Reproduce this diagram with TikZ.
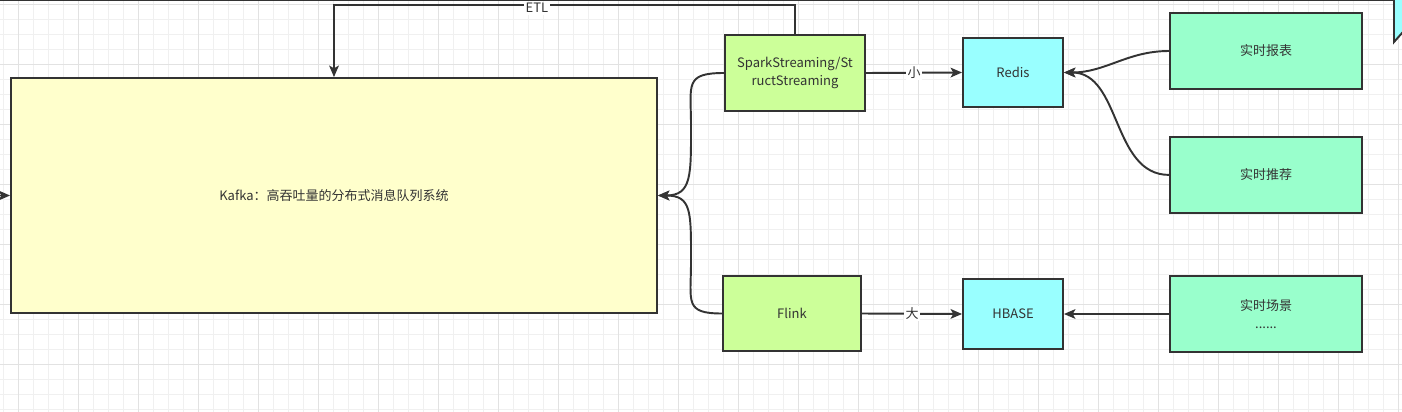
\documentclass[tikz,border=0pt]{standalone}
\usepackage{fontspec}
\setmainfont{Noto Sans CJK SC}
\usetikzlibrary{arrows.meta,positioning}
\definecolor{kafkafill}{HTML}{FFFFCC}
\definecolor{streamfill}{HTML}{CCFF99}
\definecolor{storefill}{HTML}{99FFFF}
\definecolor{appfill}{HTML}{99FFCC}
\definecolor{linegray}{HTML}{333333}
\definecolor{gridminor}{HTML}{F0F0F0}
\definecolor{gridmajor}{HTML}{E2E2E2}
\tikzset{
  box/.style={draw=linegray, line width=1.1pt, text=linegray, align=center,
    inner sep=0pt, font=\fontsize{7.4}{10}\selectfont},
  link/.style={draw=linegray, line width=1.1pt, -{Stealth[length=6.5pt,width=5.5pt,inset=1.5pt]}},
  tag/.style={fill=white, text=linegray, inner sep=1pt, font=\fontsize{7.4}{9}\selectfont},
}

\begin{document}
\begin{tikzpicture}[x=0.02cm, y=-0.02cm]
          \useasboundingbox (0,0) rectangle (1402,412);
          % grid
          \foreach \x in {3,18,...,1402} \draw[gridminor, line width=0.5pt] (\x,0) -- (\x,412);
          \foreach \y in {4,19,...,412} \draw[gridminor, line width=0.5pt] (0,\y) -- (1402,\y);
          \foreach \x in {18,78,...,1402} \draw[gridmajor, line width=0.5pt] (\x,0) -- (\x,412);
          \foreach \y in {4,64,...,412} \draw[gridmajor, line width=0.5pt] (0,\y) -- (1402,\y);

          \node [box, fill=kafkafill, minimum width=12.92cm, minimum height=4.7cm] (kafka) at (334,195.5)
                {Kafka：高吞吐量的分布式消息队列系统};
          \node [box, fill=streamfill, minimum width=2.8cm, minimum height=1.52cm] (spark) at (795,73)
                {SparkStreaming/St\\ructStreaming};
          \node [box, fill=streamfill, minimum width=2.76cm, minimum height=1.5cm] (flink) at (792,313.5) {Flink};
          \node [box, fill=storefill, minimum width=2cm, minimum height=1.38cm] (redis) at (1013,72.5) {Redis};
          \node [box, fill=storefill, minimum width=2cm, minimum height=1.4cm] (hbase) at (1013,314) {HBASE};
          \node [box, fill=appfill, minimum width=3.84cm, minimum height=1.52cm] (report) at (1266,51) {实时报表};
          \node [box, fill=appfill, minimum width=3.84cm, minimum height=1.52cm, below=0.92cm of report] (recommend) {实时推荐};
          \node [box, fill=appfill, minimum width=3.84cm, minimum height=1.52cm] (scene) at (1266,314) {实时场景\\......};

          \coordinate (feed) at (-10,195.5);
          \coordinate (topL) at (-10,0.5);
          \coordinate (topR) at (1394,0.5);

          % edges
          \draw [link] (spark.north) -- ++(0,-29) -| node [tag, pos=0.28, yshift=-1.8pt] {ETL} (kafka.north);
          \draw [link] (spark.west) .. controls +(-40,0) and +(0,-40) .. (691,125)
                .. controls +(0,50) and +(34,0) .. (kafka.east);
          \draw [link] (flink.west) .. controls +(-38,0) and +(0,40) .. (691,262)
                .. controls +(0,-50) and +(34,0) .. (kafka.east);
          \draw [link] (spark.east) -- node [tag] {小} (redis.west);
          \draw [link] (flink.east) -- node [tag] {大} (hbase.west);
          \draw [link] (report.west) to [out=180, in=0] (redis.east);
          \draw [link] (recommend.west) to [out=180, in=0] (redis.east);
          \draw [link] (scene.west) -- (hbase.west -| hbase.east);
          \draw [link] (feed) -- (kafka.west);

          % cut-off parts at the top
          \draw [draw=linegray, line width=1.1pt] (topL) -- (topR);
          \fill [storefill] (1394,-5) -- (1394,42) -- (1410,24) -- (1410,-5) -- cycle;
          \draw [draw=linegray, line width=1.1pt] (1394,-5) -- (1394,42) -- (1410,24);
     \end{tikzpicture}
\end{document}
